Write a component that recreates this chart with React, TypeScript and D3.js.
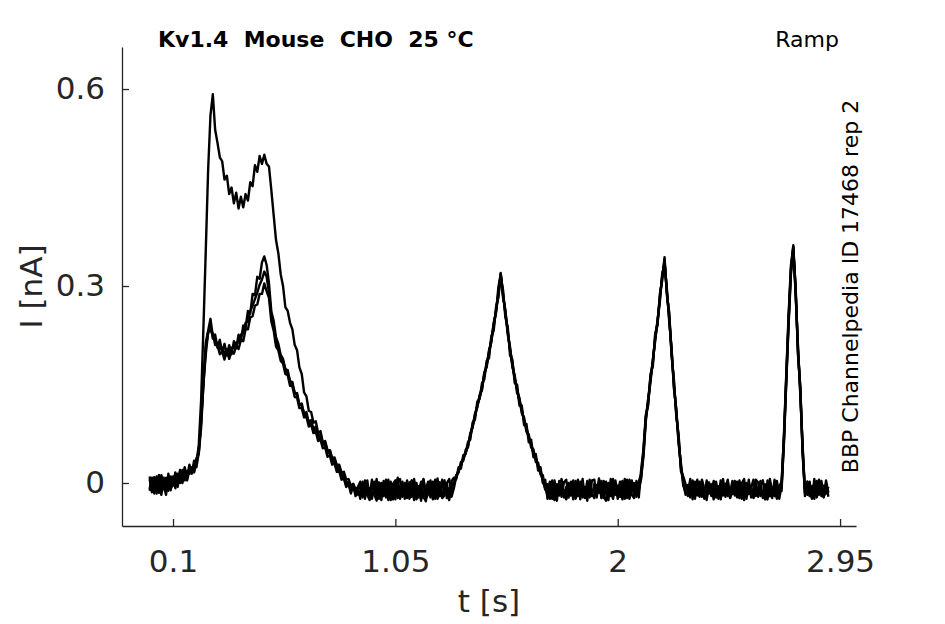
import React, {useEffect, useRef} from "react";
import * as d3 from "d3";

// sampling of the sweeps: t = T0 + i * DT  (s)
const T0 = 0;
const DT = 0.01;

// current of each sweep, pA (one row = 0.1 s)
const sweep1 = [
	6, -14, 9, -8, 12, -18, 3, 8, -12, 10,
	-2, 16, -6, 20, 2, 24, 8, 28, 14, 34,
	30, 58, 126, 238, 355, 477, 560, 592, 538, 518,
	496, 490, 462, 468, 440, 450, 426, 442, 418, 436,
	420, 440, 430, 458, 452, 484, 474, 498, 486, 500,
	486, 482, 446, 408, 370, 350, 318, 300, 268, 262,
	244, 234, 210, 202, 176, 166, 138, 132, 110, 108,
	92, 94, 76, 79, 62, 64, 50, 50, 38, 39,
	27, 28, 16, 17, 5, 6, -4, -1, -10, -6,
	2, -22, 4, -18, -26, 0, -14, 6, -24, -4,
	-20, 5, -16, 2, -25, -6, 8, -21, -2, -17,
	4, -24, -12, 3, -19, -5, -27, 6, -14, -1,
	-22, 2, -13, 7, -20, -4, 4, -23, -8, -15,
	-2, 12, 16, 32, 34, 50, 54, 76, 84, 106,
	115, 134, 141, 169, 176, 202, 214, 244, 259, 298,
	318, 282, 264, 226, 207, 176, 164, 137, 130, 106,
	100, 78, 74, 54, 51, 32, 31, 13, 12, -8,
	-18, 0, -24, 4, -20, -10, 6, -22, -6, -16,
	2, -21, -12, 5, -25, -4, -18, 3, -10, -20,
	-2, -16, 7, -23, -9, 2, -19, -13, 6, -18,
	-4, -21, 3, -14, 5, -24, -8, 0, -17, 2,
	14, 46, 100, 122, 161, 183, 222, 244, 283, 313,
	340, 290, 255, 199, 153, 107, 69, 23, 6, -12,
	-20, 3, -14, -24, 5, -12, -2, -22, 4, -16,
	-6, -25, 2, -18, -10, 6, -21, -4, -15, 3,
	-12, -22, 4, -15, -26, 0, -17, -7, 5, -20,
	-9, 3, -23, -6, -18, 6, -14, -2, -21, -5,
	2, 68, 160, 250, 326, 362, 292, 205, 140, 52,
	-10, -18, 2, -22, -8, -14, 5, -20, -4, -16,
	-6,
];

const sweep2 = [
	-9, 8, -16, 5, -7, 12, -4, -18, 7, -2,
	10, -8, 14, 0, 20, 4, 18, 14, 22, 18,
	38, 44, 96, 157, 214, 232, 250, 224, 226, 206,
	218, 198, 212, 194, 210, 196, 216, 205, 226, 216,
	240, 236, 262, 258, 288, 286, 314, 311, 336, 345,
	332, 304, 261, 247, 222, 212, 195, 189, 172, 172,
	154, 154, 136, 137, 118, 121, 104, 108, 92, 96,
	82, 86, 70, 74, 59, 62, 47, 50, 36, 37,
	23, 24, 12, 13, 0, 2, -9, -6, -10, -18,
	-16, 2, -24, -4, -20, 5, -17, -27, 1, -19,
	3, -22, -10, -26, -1, 4, -23, -15, 2, -24,
	-16, 1, -21, 6, -25, -12, 2, -19, -28, -6,
	4, -20, -2, -24, -14, 5, -18, -1, -22, 3,
	8, 8, 20, 26, 38, 46, 59, 72, 88, 102,
	118, 132, 144, 166, 180, 200, 218, 242, 262, 286,
	314, 294, 252, 238, 194, 188, 152, 150, 118, 118,
	88, 90, 62, 66, 39, 44, 19, 24, 0, 5,
	-24, 2, -17, -26, -2, -19, 4, -15, -25, 0,
	-19, 4, -24, -12, 2, -22, -6, -27, 5, -16,
	-23, -3, -15, 3, -20, -27, 0, -12, -24, 4,
	-17, 2, -25, -6, -20, 5, -18, -23, 3, -13,
	10, 40, 94, 126, 154, 188, 216, 248, 276, 318,
	334, 296, 246, 206, 144, 114, 60, 30, 0, -18,
	-3, -22, 4, -15, -19, 2, -21, -8, -26, 1,
	-14, 3, -20, -7, -25, -2, -16, 5, -23, -9,
	-19, 2, -15, -24, 0, -17, 5, -22, -12, 1,
	-21, -4, 4, -18, -25, 1, -15, -20, 3, -17,
	-6, 60, 152, 240, 318, 354, 300, 196, 148, 44,
	-16, 2, -20, -5, -24, 3, -18, -2, -22, 4,
	-15,
];

const sweep3 = [
	10, -10, 4, -16, 12, -6, 8, -13, 14, -7,
	-4, 14, -2, 18, 0, 22, 6, 24, 18, 26,
	24, 46, 84, 152, 196, 230, 232, 228, 210, 210,
	196, 200, 188, 203, 189, 201, 197, 209, 204, 218,
	216, 234, 234, 252, 254, 270, 272, 288, 288, 304,
	292, 282, 246, 232, 208, 202, 186, 182, 166, 164,
	148, 147, 131, 130, 114, 114, 100, 101, 86, 89,
	76, 78, 64, 66, 53, 54, 40, 42, 28, 30,
	17, 18, 5, 7, -6, -2, -16, -4, -20, -6,
	-24, 0, -18, 4, -22, -2, 2, -20, -1, -26,
	0, -19, 5, -22, -4, -25, 2, 6, -21, 0,
	-23, -2, 4, -18, 0, -22, -3, 5, -24, -17,
	-2, -25, 5, -17, 1, -23, -19, 0, 6, -21,
	-8, 10, 18, 28, 36, 46, 56, 72, 86, 102,
	118, 130, 146, 164, 180, 196, 218, 238, 262, 290,
	318, 286, 260, 230, 204, 180, 160, 142, 126, 110,
	96, 82, 70, 58, 46, 37, 26, 18, 6, -2,
	-2, -24, 4, -20, -27, 3, -21, 1, 5, -22,
	0, -25, 3, -20, -17, 6, -23, -3, -22, 4,
	5, -22, 0, -19, 3, -15, -26, 6, -21, -1,
	-24, 0, -19, 6, -23, -15, 4, -20, 0, -22,
	20, 52, 104, 118, 166, 178, 228, 240, 288, 308,
	344, 286, 260, 194, 158, 102, 74, 18, 10, -2,
	-17, 6, -25, 2, -14, -21, 5, -9, -23, 0,
	-20, -1, -13, -24, 4, -19, -6, 3, -22, -10,
	3, -16, -23, 0, 6, -24, -2, -18, -21, 5,
	1, -20, -14, -25, 4, -15, -23, 5, -17, -24,
	-4, 72, 166, 256, 332, 358, 288, 210, 134, 58,
	-20, 2, -14, -24, 6, -22, -10, 3, -18, -1,
	-21,
];

const sweep4 = [
	-12, 4, -5, 10, -15, 2, -9, 7, -3, -11,
	8, 0, 12, 6, 10, 18, 4, 20, 24, 16,
	34, 50, 92, 150, 206, 228, 240, 220, 218, 212,
	204, 206, 196, 204, 198, 206, 206, 214, 214, 226,
	228, 244, 246, 262, 270, 280, 290, 302, 310, 322,
	314, 290, 256, 238, 218, 206, 192, 186, 174, 166,
	156, 150, 138, 134, 120, 118, 106, 102, 94, 88,
	84, 78, 72, 66, 60, 56, 48, 44, 34, 32,
	20, 20, 8, 10, -4, 0, -12, -2, -16, -9,
	-6, -20, -2, -15, -8, -24, -5, -11, -22, 0,
	-14, -4, -26, -8, -18, 0, -13, -24, -6, -12,
	-7, -20, -1, -26, -9, -15, -3, -23, -10, 2,
	-16, -8, -24, -3, -12, -20, -6, -14, -26, -4,
	2, 6, 24, 22, 42, 44, 62, 66, 92, 96,
	124, 128, 152, 158, 186, 190, 224, 232, 268, 282,
	320, 288, 258, 232, 202, 182, 158, 144, 124, 112,
	94, 84, 68, 60, 44, 38, 24, 16, 4, -10,
	-10, -17, -5, -14, -21, -7, -16, -11, -24, -3,
	-13, -7, -20, -2, -13, -18, -9, -21, -4, -15,
	-9, -18, -4, -14, -23, -6, -11, -20, -3, -16,
	-10, -19, -5, -24, -8, -16, -12, -3, -21, -7,
	6, 48, 98, 128, 158, 186, 220, 246, 280, 316,
	336, 292, 250, 202, 148, 110, 64, 26, -4, -14,
	-10, -18, -6, -20, -3, -16, -12, -24, -7, -14,
	-2, -16, -22, -5, -18, -12, -1, -20, -8, -17,
	-7, -14, -19, -3, -21, -9, -15, -4, -23, -11,
	-15, -8, -19, -2, -13, -20, -6, -11, -24, -9,
	-12, 64, 156, 246, 322, 360, 296, 200, 144, 48,
	-14, -6, -19, -10, -2, -18, -13, -7, -21, -12,
	-9,
];

const sweeps = [sweep1, sweep2, sweep3, sweep4];

const xTicks = [0.1, 1.05, 2, 2.95];
const xTickLabels = ["0.1", "1.05", "2", "2.95"];
const yTicks = [0, 0.3, 0.6];
const yTickLabels = ["0", "0.3", "0.6"];

const title = "Kv1.4  Mouse  CHO  25 °C";
const protocol = "Ramp";
const sideNote = "BBP Channelpedia ID 17468 rep 2";

const W = 945;
const H = 624;
const FONT = "DejaVu Sans, sans-serif";
const AXIS = "#262626";

const App: React.FC = () => {
	const svgRef = useRef<SVGSVGElement>(null);

	useEffect(() => {
		const svg = d3.select(svgRef.current);
		svg.selectAll("*").remove();

		const margin = {top: 47, right: 89, bottom: 98, left: 122};

		const x = d3.scaleLinear().domain([-0.118, 3.018]).range([margin.left, W - margin.right]);
		const y = d3.scaleLinear().domain([-0.0655, 0.664]).range([H - margin.bottom, margin.top]);

		// traces
		const line = d3
			.line<number>()
			.x((_, i) => x(T0 + i * DT))
			.y((d) => y(d / 1000));

		svg.append("g")
			.selectAll("path")
			.data(sweeps)
			.enter()
			.append("path")
			.attr("fill", "none")
			.attr("stroke", "#000")
			.attr("stroke-width", 2.4)
			.attr("stroke-linejoin", "round")
			.attr("d", (d) => line(d));

		// X axis
		const gx = svg
			.append("g")
			.attr("transform", `translate(0, ${H - margin.bottom})`)
			.call(
				d3
					.axisBottom(x)
					.tickValues(xTicks)
					.tickFormat((_, i) => xTickLabels[i])
					.tickSize(-7)
					.tickSizeOuter(0)
					.tickPadding(24)
			);

		// Y axis
		const gy = svg
			.append("g")
			.attr("transform", `translate(${margin.left}, 0)`)
			.call(
				d3
					.axisLeft(y)
					.tickValues(yTicks)
					.tickFormat((_, i) => yTickLabels[i])
					.tickSize(-7)
					.tickSizeOuter(0)
					.tickPadding(17)
			);

		[gx, gy].forEach((g) => {
			g.select(".domain").attr("stroke", AXIS).attr("stroke-width", 1.3);
			g.selectAll(".tick line").attr("stroke", AXIS).attr("stroke-width", 1.3);
			g.selectAll(".tick text")
				.attr("fill", AXIS)
				.style("font-family", FONT)
				.style("font-size", "31px");
		});

		// axis labels
		svg.append("text")
			.attr("x", (margin.left + W - margin.right) / 2)
			.attr("y", 612)
			.attr("text-anchor", "middle")
			.attr("fill", AXIS)
			.style("font-family", FONT)
			.style("font-size", "31px")
			.text("t [s]");

		svg.append("text")
			.attr("transform", `translate(42, ${(margin.top + H - margin.bottom) / 2}) rotate(-90)`)
			.attr("text-anchor", "middle")
			.attr("fill", AXIS)
			.style("font-family", FONT)
			.style("font-size", "31px")
			.text("I [nA]");

		// title & notes
		svg.append("text")
			.attr("x", 158)
			.attr("y", 47)
			.attr("xml:space", "preserve")
			.attr("fill", "#000")
			.style("white-space", "pre")
			.style("font-family", FONT)
			.style("font-size", "22px")
			.style("font-weight", "bold")
			.text(title);

		svg.append("text")
			.attr("x", 839)
			.attr("y", 47)
			.attr("text-anchor", "end")
			.attr("fill", "#000")
			.style("font-family", FONT)
			.style("font-size", "22px")
			.text(protocol);

		svg.append("text")
			.attr("transform", `translate(858, ${(margin.top + H - margin.bottom) / 2}) rotate(-90)`)
			.attr("text-anchor", "middle")
			.attr("fill", "#000")
			.style("font-family", FONT)
			.style("font-size", "22px")
			.text(sideNote);
	}, []);

	return (
		<div style={{position: "absolute", left: 0, top: 0}}>
			<svg ref={svgRef} width={W} height={H} style={{display: "block", background: "#fff"}} />
		</div>
	);
};

export default App;
